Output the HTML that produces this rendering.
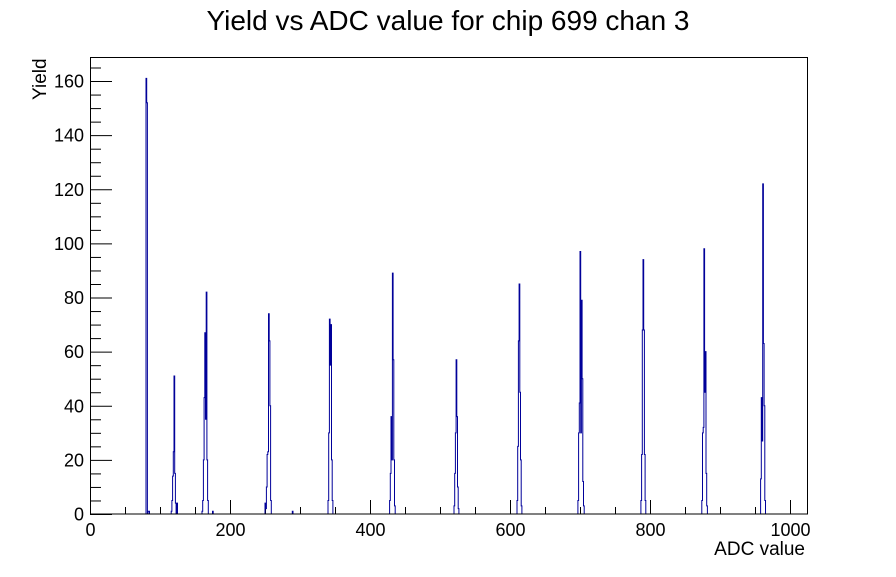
<!DOCTYPE html>
<html><head><meta charset="utf-8"><style>
body{margin:0;background:#fff;}
svg text{font-family:"Liberation Sans",Arial,sans-serif;fill:#000;}
</style></head><body>
<svg id="s" width="896" height="572" xmlns="http://www.w3.org/2000/svg">
<rect x="0" y="0" width="896" height="572" fill="#fff"/>
<text x="448" y="30" font-size="28" text-anchor="middle">Yield vs ADC value for chip 699 chan 3</text>
<g id="ax"></g>
<path id="h" fill="none" stroke="#000099" stroke-width="1"/>
<rect x="90.5" y="57.5" width="717" height="456.5" fill="none" stroke="#000" stroke-width="1"/>
<text x="805" y="555" font-size="19" text-anchor="end">ADC value</text>
<text transform="translate(46,100) rotate(-90)" font-size="19" text-anchor="start">Yield</text>
</svg>
<script>
var X=function(v){return 90+v*0.7;},Y=function(h){return 514-h*2.706;};
var peaks={80:[161,152,0,1,1],116:[1,5,14,23,51,15,4,0,4],160:[1,5,20,43,67,35,82,20,5],
250:[4,2,10,22,23,74,64,40,5],340:[5,30,72,55,70,20,5],428:[5,15,36,20,89,57,20,3],
520:[3,15,30,57,36,10,2],610:[5,25,64,85,45,20,3],697:[5,30,41,97,30,79,50,12,3],
787:[5,22,68,94,68,22,5],874:[5,30,32,98,45,60,15,3],958:[13,43,27,122,63,40,5]};
var h=new Array(1024).fill(0);
for(var k in peaks){peaks[k].forEach(function(v,i){h[+k+i]=v;});}
h[289]=1;h[175]=1;
var d="M90,514";
for(var i=0;i<1024;i++){d+=" L"+X(i).toFixed(2)+","+Y(h[i]).toFixed(2)+" L"+X(i+1).toFixed(2)+","+Y(h[i]).toFixed(2);}
document.getElementById("h").setAttribute("d",d);
var g="";
for(var v=0;v<=1024;v+=50){var x=X(v)+0.5,L=(v%200==0)?14:7;g+='<line x1="'+x+'" y1="514" x2="'+x+'" y2="'+(514-L)+'" stroke="#000"/>';
if(v%200==0)g+='<text x="'+x+'" y="536" font-size="18" text-anchor="middle">'+v+'</text>';}
for(var v=0;v<=168;v+=5){var y=Y(v)+0.5,L=(v%20==0)?22:11;g+='<line x1="90" y1="'+y+'" x2="'+(90+L)+'" y2="'+y+'" stroke="#000"/>';
if(v%20==0)g+='<text x="84" y="'+(y+6)+'" font-size="18" text-anchor="end">'+v+'</text>';}
document.getElementById("ax").innerHTML=g;
</script>
</body></html>
